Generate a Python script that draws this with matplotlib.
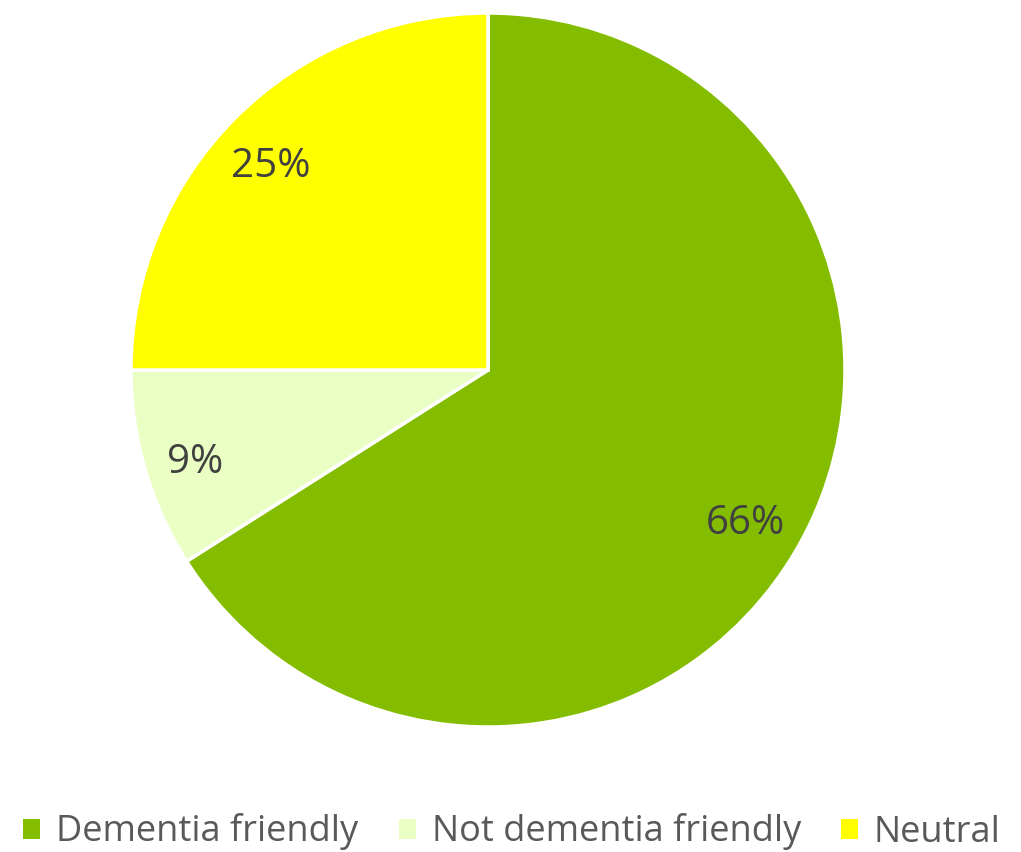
import matplotlib
matplotlib.use("Agg")
import matplotlib.pyplot as plt
from matplotlib.patches import Patch

categories = ["Dementia friendly", "Not dementia friendly", "Neutral"]
values = [66, 9, 25]
colors = ["#84BD00", "#EAFFC4", "#FFFF00"]

FONT = ["Open Sans", "DejaVu Sans"]

fig = plt.figure(figsize=(10.21, 8.52), dpi=100)
ax = fig.add_axes([131/1021, (482-357)/852, 714/1021, 714/852])
ax.set_aspect("equal")
ax.axis("off")

wedges, texts, autotexts = ax.pie(
    values, colors=colors, startangle=90, counterclock=False, radius=1,
    autopct=lambda p: f"{p:.0f}%", pctdistance=0.84,
    wedgeprops=dict(edgecolor="white", linewidth=2.5),
    textprops=dict(color="#404040", fontsize=29, family=FONT),
)
for t in autotexts:
    x, y = t.get_position()
    t.set_position((x - 0.015, y - 0.025))
ax.set_xlim(-1, 1)
ax.set_ylim(-1, 1)

fs = 26
px = fs * 100 / 72
handles = [Patch(facecolor=c, edgecolor="none") for c in colors]
fig.legend(handles, categories, loc="center", bbox_to_anchor=(512/1021, 20/852),
           ncol=3, frameon=False, handlelength=17/px, handleheight=17/px,
           handletextpad=16/px, columnspacing=40/px, borderpad=0.1,
           prop=dict(family=FONT, size=fs), labelcolor="#595959")

fig.savefig("out.png", dpi=100)
